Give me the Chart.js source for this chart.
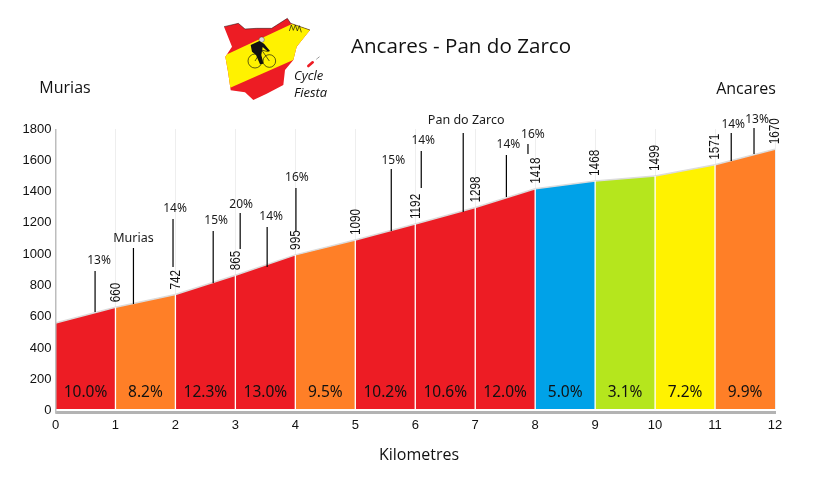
<!DOCTYPE html>
<html>
<head>
<meta charset="utf-8">
<title>Ancares - Pan do Zarco</title>
<script src="https://cdn.jsdelivr.net/npm/chart.js@4"></script>
<style>
  html, body { margin: 0; padding: 0; background: #fff; }
  #wrap { position: relative; width: 831px; height: 488px; overflow: hidden; }
  #myChart { position: absolute; left: 0; top: 0; }
  #logo { position: absolute; left: 200px; top: 5px; }
</style>
</head>
<body>
<div id="wrap">
  <canvas id="myChart" width="831" height="488"></canvas>
  <svg id="logo" width="150" height="100" viewBox="0 0 450 300">
    <defs>
      <clipPath id="iberia">
        <path d="M72 65 L115 55 L135 72 L170 70 L215 70 L262 40 L272 55 L330 75 L290 125 L280 165 L255 195 L250 240 L200 266 L160 285 L135 262 L92 256 L84 200 L76 155 L96 125 Z"/>
      </clipPath>
    </defs>
    <g clip-path="url(#iberia)">
      <rect x="60" y="30" width="280" height="260" fill="#ed1c24"/>
      <polygon points="60,158 290,50 340,60 300,156 60,262" fill="#fff200"/>
    </g>
    <path d="M72 65 L115 55 L135 72 L170 70 L215 70 L262 40 L272 55 L330 75" fill="none" stroke="#111" stroke-width="1.5"/>
    <path d="M268 78 L274 60 L280 76 L286 60 L292 78 L298 62 L304 82" fill="none" stroke="#111" stroke-width="2"/>
    <circle cx="165" cy="168" r="21" fill="none" stroke="#111" stroke-width="2"/>
    <circle cx="208" cy="168" r="19" fill="none" stroke="#111" stroke-width="2"/>
    <circle cx="185" cy="104" r="8" fill="#ddd" stroke="#111"/>
    <path d="M152 120 L178 108 L192 116 L210 138 L204 140 L188 126 L184 150 L190 176 L180 178 L168 150 L156 140 Z" fill="#111"/>
    <path d="M165 168 L185 135 L208 168 M185 135 L203 140" fill="none" stroke="#111" stroke-width="2"/>
    <path d="M325 183 L338 172" stroke="#ed1c24" stroke-width="8" stroke-linecap="round"/>
    <path d="M350 162 L360 154" stroke="#333" stroke-width="3" stroke-dasharray="3 4"/>
    <text x="282" y="225" font-family="Open Sans" font-style="italic" font-size="39" fill="#111">Cycle</text>
    <text x="282" y="277" font-family="Open Sans" font-style="italic" font-size="39" fill="#111">Fiesta</text>
  </svg>
</div>
<script>
const kms = [0, 1, 2, 3, 4, 5, 6, 7, 8, 9, 10, 11, 12];
const elevations = [560, 660, 742, 865, 995, 1090, 1192, 1298, 1418, 1468, 1499, 1571, 1670];
const gradients = ["10.0%", "8.2%", "12.3%", "13.0%", "9.5%", "10.2%", "10.6%", "12.0%", "5.0%", "3.1%", "7.2%", "9.9%"];

const spikeKm = [0.66, 1.3, 1.96, 2.63, 3.08, 3.53, 4.01, 5.6, 6.1, 6.8, 7.52, 7.88, 11.27, 11.65];
const spikeTop = [892, 1039, 1224, 1148, 1263, 1173, 1423, 1544, 1659, 1774, 1634, 1704, 1774, 1806];
const spikeBase = [630, 681, 918, 815, 1033, 918, 1148, 1148, 1423, 1269, 1365, 1640, 1595, 1640];
const spikeLabels = ["13%", "Murias", "14%", "15%", "20%", "14%", "16%", "15%", "14%", "Pan do Zarco", "14%", "16%", "14%", "13%"];

const segmentColors = ["#ed1c24", "#ff7f27", "#ed1c24", "#ed1c24", "#ff7f27", "#ed1c24", "#ed1c24", "#ed1c24", "#00a2e8", "#b5e61d", "#fff200", "#ff7f27"];
// small sideways/upward shifts for the spike captions, px
const nudgeX = [4, 0, 2, 3, 1, 4, 1, 2, 2, 3, 2, 5, 2, 3];
const nudgeY = [10, 10, 11, 10, 8, 10, 10, 8, 10, 13, 10, 9, 8, 8];

const datasets = [];

// white km separators + black spikes go first so they sit on top of the fills
for (let i = 1; i < kms.length - 1; i++) {
  datasets.push({
    data: [{ x: kms[i], y: 0 }, { x: kms[i], y: elevations[i] }],
    borderColor: "#ffffff",
    borderWidth: 1.3,
    pointRadius: 0,
    fill: false,
  });
}
for (let i = 0; i < spikeKm.length; i++) {
  datasets.push({
    data: [{ x: spikeKm[i], y: spikeBase[i] }, { x: spikeKm[i], y: spikeTop[i] }],
    borderColor: "#000000",
    borderWidth: 1.2,
    pointRadius: 0,
    fill: false,
    clip: false,
  });
}
for (let i = 0; i < gradients.length; i++) {
  datasets.push({
    data: [{ x: kms[i], y: elevations[i] }, { x: kms[i + 1], y: elevations[i + 1] }],
    borderColor: "#dcdcdc",
    borderWidth: 1.5,
    backgroundColor: segmentColors[i],
    pointRadius: 0,
    fill: "origin",
  });
}

function text(ctx, str, x, y, font, color) {
  ctx.font = font;
  ctx.fillStyle = color || "#111";
  ctx.textAlign = "center";
  ctx.textBaseline = "middle";
  ctx.fillText(str, x, y);
}

const extras = {
  id: "extras",
  afterDatasetsDraw(chart) {
    const ctx = chart.ctx;
    const xs = chart.scales.x;
    const ys = chart.scales.y;
    const left = xs.left;
    const right = xs.right;
    const bottom = ys.bottom;
    ctx.save();

    // white gap and thick grey base, plus the left axis
    ctx.fillStyle = "#ffffff";
    ctx.fillRect(left, bottom - 1.5, right - left + 1, 2);
    ctx.fillStyle = "#b3b3b3";
    ctx.fillRect(left, bottom + 0.5, right - left + 1, 3);
    ctx.fillStyle = "#bdbdbd";
    ctx.fillRect(left - 0.5, ys.top, 1.5, bottom - ys.top + 3);

    // gradient captions along the bottom
    for (let i = 0; i < gradients.length; i++) {
      const mid = (xs.getPixelForValue(kms[i]) + xs.getPixelForValue(kms[i + 1])) / 2;
      text(ctx, gradients[i], mid, 392.5, '15.5px "Noto Sans"', "#111");
    }

    // spike captions
    for (let i = 0; i < spikeKm.length; i++) {
      const font = spikeLabels[i].endsWith("%") ? '12px "Noto Sans"' : '12.5px "Noto Sans"';
      text(ctx, spikeLabels[i], xs.getPixelForValue(spikeKm[i]) + nudgeX[i], ys.getPixelForValue(spikeTop[i]) - nudgeY[i], font, "#1a1a1a");
    }

    // rotated elevations at each km, squeezed a bit along the text
    for (let i = 1; i < kms.length; i++) {
      ctx.save();
      ctx.translate(xs.getPixelForValue(kms[i]) + 0.5, ys.getPixelForValue(elevations[i]) - 5);
      ctx.rotate(-Math.PI / 2);
      ctx.scale(0.84, 1);
      ctx.font = '14px "Liberation Sans"';
      ctx.fillStyle = "#111";
      ctx.textAlign = "left";
      ctx.textBaseline = "middle";
      ctx.fillText(String(elevations[i]), 0, 0);
      ctx.restore();
    }

    text(ctx, "Ancares - Pan do Zarco", 461, 47, '20.6px "Open Sans"', "#111");
    text(ctx, "Murias", 65, 88, '16px "Open Sans"', "#111");
    text(ctx, "Ancares", 746, 89, '16px "Open Sans"', "#111");
    text(ctx, "Kilometres", 419, 455, '16px "Open Sans"', "#111");
    ctx.restore();
  },
};

const myChart = new Chart(document.getElementById("myChart"), {
  type: "line",
  data: { datasets: datasets },
  plugins: [extras],
  options: {
    responsive: false,
    animation: false,
    layout: { padding: { left: 0, right: 56, top: 129, bottom: 0 } },
    plugins: {
      legend: { display: false },
      tooltip: { enabled: false },
      title: { display: false },
    },
    scales: {
      x: {
        type: "linear",
        min: 0,
        max: 12,
        afterFit(scale) { scale.height = 77.5; },
        border: { display: false },
        grid: { color: "#eeeeee", drawTicks: false },
        ticks: {
          stepSize: 1,
          padding: 7,
          color: "#111",
          maxRotation: 0,
          font: { family: '"Liberation Sans"', size: 13 },
        },
      },
      y: {
        min: 0,
        max: 1800,
        afterFit(scale) { scale.width = 55.5; },
        border: { display: false },
        grid: { display: false, drawTicks: false },
        ticks: {
          stepSize: 200,
          padding: 4,
          color: "#111",
          font: { family: '"Liberation Sans"', size: 13 },
          callback: function (value) { return String(value); },
        },
      },
    },
  },
});
</script>
</body>
</html>
